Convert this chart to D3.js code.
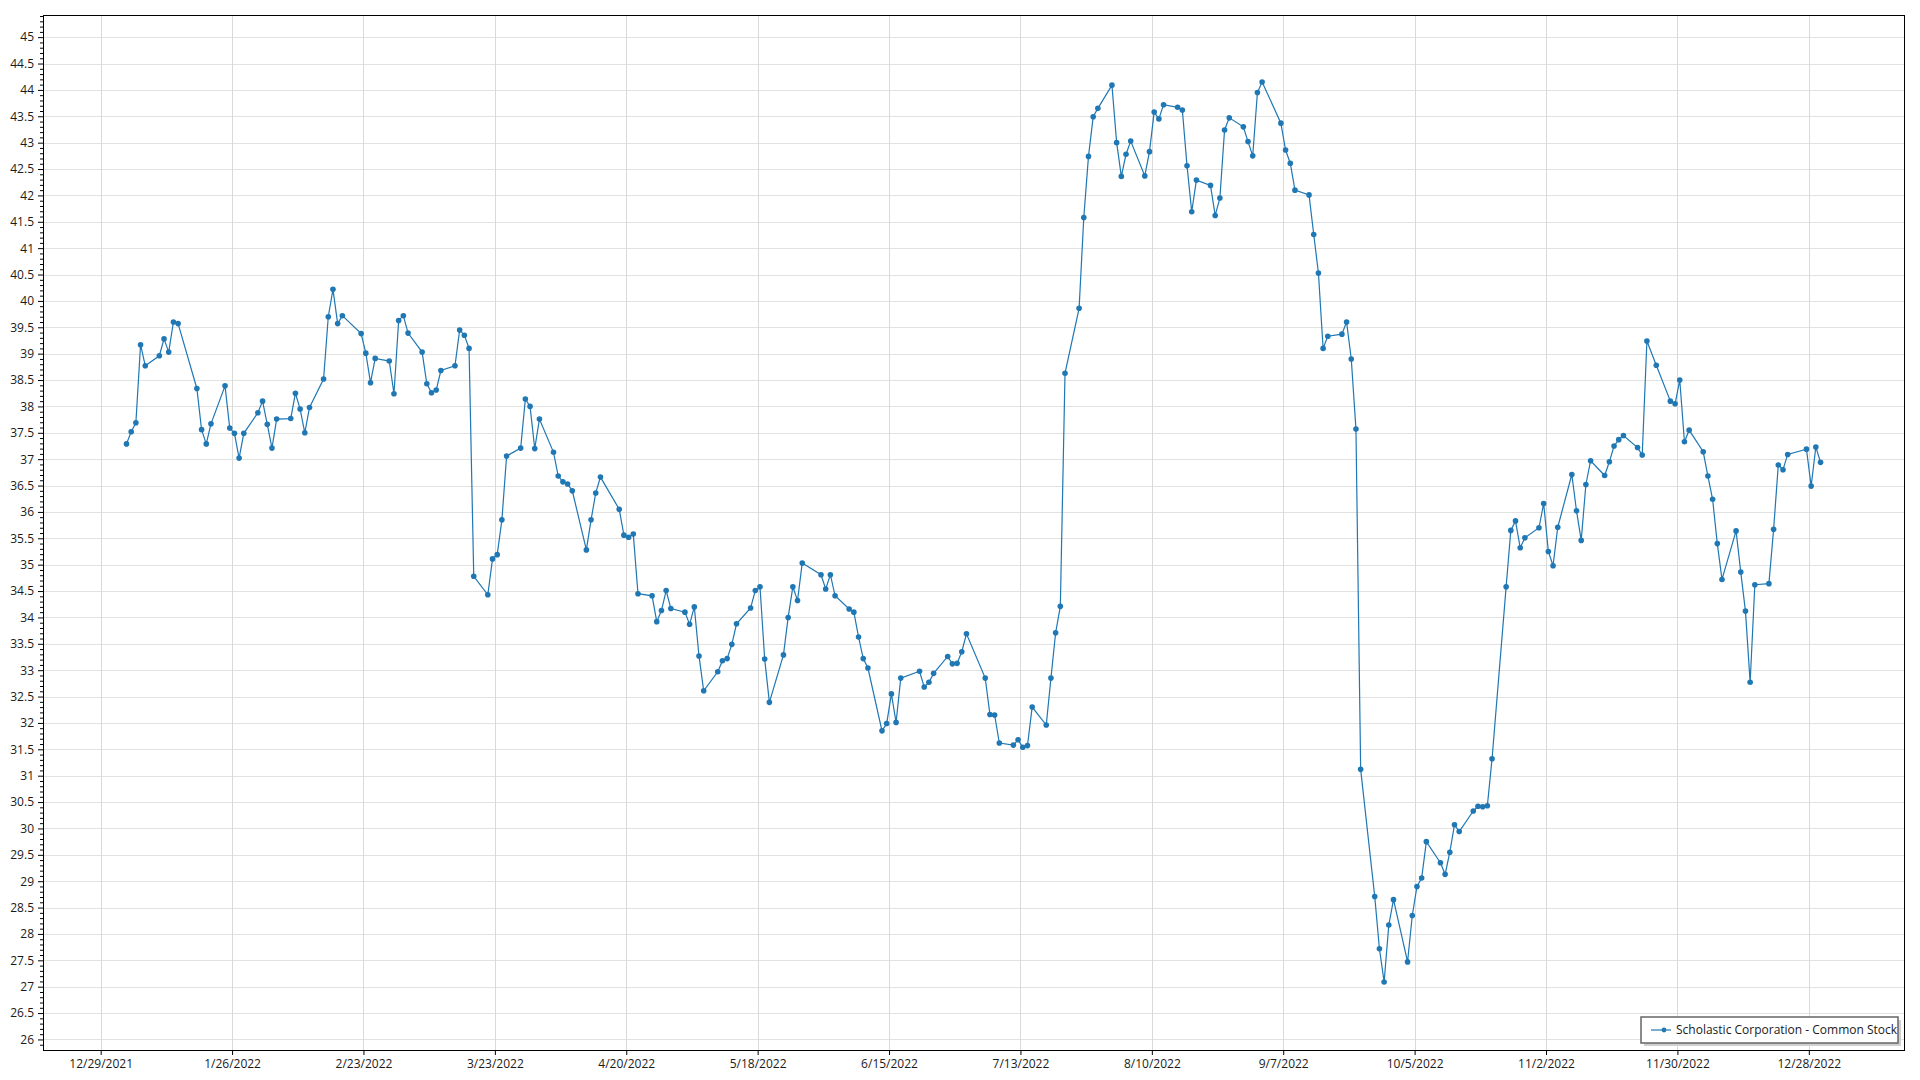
<!DOCTYPE html>
<html>
<head>
<meta charset="utf-8">
<script src="https://cdn.jsdelivr.net/npm/d3@7"></script>
<style>
  html, body { margin: 0; padding: 0; background: #ffffff; }
  svg { display: block; }
  text { font-family: "Segoe UI", "Open Sans", "Noto Sans", sans-serif; fill: #1a1a1a; }
</style>
</head>
<body>
<svg id="chart" width="1920" height="1080"></svg>
<script>
// ---- Data ----
const seriesName = "Scholastic Corporation - Common Stock";

const dates = [
  "2022-01-03","2022-01-04","2022-01-05","2022-01-06","2022-01-07","2022-01-10","2022-01-11","2022-01-12","2022-01-13","2022-01-14",
  "2022-01-18","2022-01-19","2022-01-20","2022-01-21","2022-01-24","2022-01-25","2022-01-26","2022-01-27","2022-01-28","2022-01-31",
  "2022-02-01","2022-02-02","2022-02-03","2022-02-04","2022-02-07","2022-02-08","2022-02-09","2022-02-10","2022-02-11","2022-02-14",
  "2022-02-15","2022-02-16","2022-02-17","2022-02-18","2022-02-22","2022-02-23","2022-02-24","2022-02-25","2022-02-28",
  "2022-03-01","2022-03-02","2022-03-03","2022-03-04","2022-03-07","2022-03-08","2022-03-09","2022-03-10","2022-03-11","2022-03-14",
  "2022-03-15","2022-03-16","2022-03-17","2022-03-18","2022-03-21","2022-03-22","2022-03-23","2022-03-24","2022-03-25","2022-03-28",
  "2022-03-29","2022-03-30","2022-03-31","2022-04-01","2022-04-04","2022-04-05","2022-04-06","2022-04-07","2022-04-08","2022-04-11",
  "2022-04-12","2022-04-13","2022-04-14","2022-04-18","2022-04-19","2022-04-20","2022-04-21","2022-04-22","2022-04-25","2022-04-26",
  "2022-04-27","2022-04-28","2022-04-29","2022-05-02","2022-05-03","2022-05-04","2022-05-05","2022-05-06","2022-05-09","2022-05-10",
  "2022-05-11","2022-05-12","2022-05-13","2022-05-16","2022-05-17","2022-05-18","2022-05-19","2022-05-20","2022-05-23","2022-05-24",
  "2022-05-25","2022-05-26","2022-05-27","2022-05-31","2022-06-01","2022-06-02","2022-06-03","2022-06-06","2022-06-07","2022-06-08",
  "2022-06-09","2022-06-10","2022-06-13","2022-06-14","2022-06-15","2022-06-16","2022-06-17","2022-06-21","2022-06-22","2022-06-23",
  "2022-06-24","2022-06-27","2022-06-28","2022-06-29","2022-06-30","2022-07-01","2022-07-05","2022-07-06","2022-07-07","2022-07-08",
  "2022-07-11","2022-07-12","2022-07-13","2022-07-14","2022-07-15","2022-07-18","2022-07-19","2022-07-20","2022-07-21","2022-07-22",
  "2022-07-25","2022-07-26","2022-07-27","2022-07-28","2022-07-29","2022-08-01","2022-08-02","2022-08-03","2022-08-04","2022-08-05",
  "2022-08-08","2022-08-09","2022-08-10","2022-08-11","2022-08-12","2022-08-15","2022-08-16","2022-08-17","2022-08-18","2022-08-19",
  "2022-08-22","2022-08-23","2022-08-24","2022-08-25","2022-08-26","2022-08-29","2022-08-30","2022-08-31","2022-09-01","2022-09-02",
  "2022-09-06","2022-09-07","2022-09-08","2022-09-09","2022-09-12","2022-09-13","2022-09-14","2022-09-15","2022-09-16","2022-09-19",
  "2022-09-20","2022-09-21","2022-09-22","2022-09-23","2022-09-26","2022-09-27","2022-09-28","2022-09-29","2022-09-30","2022-10-03",
  "2022-10-04","2022-10-05","2022-10-06","2022-10-07","2022-10-10","2022-10-11","2022-10-12","2022-10-13","2022-10-14","2022-10-17",
  "2022-10-18","2022-10-19","2022-10-20","2022-10-21","2022-10-24","2022-10-25","2022-10-26","2022-10-27","2022-10-28","2022-10-31",
  "2022-11-01","2022-11-02","2022-11-03","2022-11-04","2022-11-07","2022-11-08","2022-11-09","2022-11-10","2022-11-11","2022-11-14",
  "2022-11-15","2022-11-16","2022-11-17","2022-11-18","2022-11-21","2022-11-22","2022-11-23","2022-11-25","2022-11-28","2022-11-29",
  "2022-11-30","2022-12-01","2022-12-02","2022-12-05","2022-12-06","2022-12-07","2022-12-08","2022-12-09","2022-12-12","2022-12-13",
  "2022-12-14","2022-12-15","2022-12-16","2022-12-19","2022-12-20","2022-12-21","2022-12-22","2022-12-23","2022-12-27","2022-12-28",
  "2022-12-29","2022-12-30"
];

const prices = [
  37.29,37.52,37.69,39.17,38.77,38.96,39.28,39.03,39.60,39.57,
  38.34,37.56,37.29,37.67,38.39,37.59,37.49,37.02,37.49,37.88,
  38.10,37.66,37.21,37.76,37.77,38.25,37.95,37.50,37.98,38.52,
  39.70,40.22,39.57,39.72,39.38,39.01,38.45,38.91,38.86,
  38.24,39.63,39.72,39.39,39.03,38.43,38.26,38.31,38.68,38.77,
  39.45,39.35,39.10,34.78,34.43,35.11,35.19,35.85,37.06,37.21,
  38.14,38.00,37.20,37.76,37.13,36.68,36.57,36.53,36.40,35.28,
  35.85,36.36,36.66,36.05,35.56,35.52,35.58,34.45,34.41,33.92,
  34.13,34.51,34.17,34.10,33.87,34.20,33.27,32.61,32.97,33.18,
  33.22,33.49,33.88,34.18,34.51,34.58,33.21,32.39,33.29,34.00,
  34.58,34.32,35.03,34.81,34.54,34.81,34.41,34.16,34.10,33.63,
  33.22,33.04,31.85,31.99,32.55,32.01,32.85,32.98,32.68,32.77,
  32.94,33.26,33.12,33.13,33.35,33.69,32.85,32.16,32.15,31.62,
  31.58,31.68,31.54,31.57,32.30,31.96,32.85,33.71,34.21,38.63,
  39.86,41.58,42.74,43.49,43.65,44.09,43.00,42.36,42.78,43.03,
  42.37,42.83,43.58,43.45,43.72,43.67,43.62,42.56,41.69,42.29,
  42.19,41.62,41.95,43.24,43.47,43.30,43.02,42.75,43.95,44.15,
  43.37,42.86,42.61,42.10,42.01,41.26,40.53,39.10,39.33,39.37,
  39.60,38.90,37.57,31.12,28.71,27.72,27.09,28.17,28.65,27.47,
  28.35,28.90,29.06,29.75,29.35,29.13,29.55,30.07,29.94,30.33,
  30.42,30.41,30.43,31.32,34.58,35.65,35.83,35.32,35.51,35.70,
  36.16,35.25,34.98,35.71,36.71,36.02,35.46,36.52,36.97,36.69,
  36.95,37.25,37.37,37.45,37.22,37.08,39.24,38.78,38.10,38.05,
  38.50,37.33,37.55,37.14,36.68,36.24,35.40,34.72,35.64,34.86,
  34.12,32.77,34.62,34.64,35.67,36.89,36.80,37.09,37.19,36.49,
  37.23,36.94
];

const xTickLabels = ["12/29/2021","1/26/2022","2/23/2022","3/23/2022","4/20/2022","5/18/2022","6/15/2022",
                     "7/13/2022","8/10/2022","9/7/2022","10/5/2022","11/2/2022","11/30/2022","12/28/2022"];
const yTickLabels = [26,26.5,27,27.5,28,28.5,29,29.5,30,30.5,31,31.5,32,32.5,33,33.5,34,34.5,35,35.5,
                     36,36.5,37,37.5,38,38.5,39,39.5,40,40.5,41,41.5,42,42.5,43,43.5,44,44.5,45];
const xDomain = ["2021-12-16T17:00:00", "2023-01-17T12:00:00"];
const yDomain = [25.8, 45.42];

// ---- Layout ----
const plot = { left: 43, top: 15, right: 1905, bottom: 1050 };
const color = "#1f77b4";

const svg = d3.select("#chart");
const parse = s => new Date(s);
const parseDay = s => { const [y,m,d] = s.split("-").map(Number); return new Date(y, m-1, d, 12); };
const parseTick = s => { const [m,d,y] = s.split("/").map(Number); return new Date(y, m-1, d); };

const x = d3.scaleTime().domain(xDomain.map(parse)).range([plot.left, plot.right]);
const y = d3.scaleLinear().domain(yDomain).range([plot.bottom, plot.top]);

const data = dates.map((d, i) => ({ date: parseDay(d), value: prices[i] }));
const xTicks = xTickLabels.map(parseTick);

// grid
const grid = svg.append("g");
grid.selectAll("line.h").data(yTickLabels).join("line")
  .attr("x1", plot.left).attr("x2", plot.right)
  .attr("y1", d => Math.round(y(d)) + 0.5).attr("y2", d => Math.round(y(d)) + 0.5)
  .attr("stroke", "#e2e2e2").attr("stroke-width", 1);
grid.selectAll("line.v").data(xTicks).join("line")
  .attr("y1", plot.top).attr("y2", plot.bottom)
  .attr("x1", d => Math.round(x(d)) + 0.5).attr("x2", d => Math.round(x(d)) + 0.5)
  .attr("stroke", "#dadada").attr("stroke-width", 1);

// axes
const fmtY = d => String(d);
const yAxis = d3.axisLeft(y).tickValues(yTickLabels).tickFormat(fmtY).tickSize(5).tickPadding(4);
const yMinor = d3.axisLeft(y).tickValues(d3.range(259, 455).map(v => v / 10).filter(v => Math.abs(v * 2 - Math.round(v * 2)) > 1e-6)).tickFormat("").tickSize(3);
const xAxis = d3.axisBottom(x).tickValues(xTicks).tickFormat((d, i) => xTickLabels[i]).tickSize(5).tickPadding(4);

const gy = svg.append("g").attr("transform", `translate(${plot.left},0)`).call(yAxis);
const gym = svg.append("g").attr("transform", `translate(${plot.left},0)`).call(yMinor);
const gx = svg.append("g").attr("transform", `translate(0,${plot.bottom})`).call(xAxis);
[gy, gym, gx].forEach(g => {
  g.select(".domain").remove();
  g.selectAll("line").attr("stroke", "#000");
  g.selectAll("text").attr("font-size", 12).attr("fill", "#1a1a1a")
    .style("font-family", '"Segoe UI", "Open Sans", "Noto Sans", sans-serif');
});

// frame
svg.append("rect")
  .attr("x", plot.left + 0.5).attr("y", plot.top + 0.5)
  .attr("width", plot.right - plot.left - 1).attr("height", plot.bottom - plot.top)
  .attr("fill", "none").attr("stroke", "#000").attr("stroke-width", 1);

// series
const line = d3.line().x(d => x(d.date)).y(d => y(d.value));
svg.append("path").datum(data)
  .attr("d", line).attr("fill", "none")
  .attr("stroke", color).attr("stroke-width", 1.2);
svg.append("g").selectAll("circle").data(data).join("circle")
  .attr("cx", d => x(d.date)).attr("cy", d => y(d.value)).attr("r", 2.8)
  .attr("fill", color);

// legend
const lg = svg.append("g");
const lx = 1641, ly = 1017, lw = 257, lh = 26;
lg.append("rect").attr("x", lx + 3).attr("y", ly + 3).attr("width", lw).attr("height", lh).attr("fill", "#d0d0d0");
lg.append("rect").attr("x", lx).attr("y", ly).attr("width", lw).attr("height", lh)
  .attr("fill", "#fff").attr("stroke", "#666").attr("stroke-width", 1.5);
lg.append("line").attr("x1", lx + 10).attr("x2", lx + 30).attr("y1", ly + 13).attr("y2", ly + 13)
  .attr("stroke", color).attr("stroke-opacity", 0.6).attr("stroke-width", 2);
lg.append("circle").attr("cx", lx + 23).attr("cy", ly + 13).attr("r", 2.4).attr("fill", color);
lg.append("text").attr("x", lx + 35).attr("y", ly + 13).attr("dy", "0.35em")
  .attr("font-size", 12).text(seriesName);
</script>
</body>
</html>
